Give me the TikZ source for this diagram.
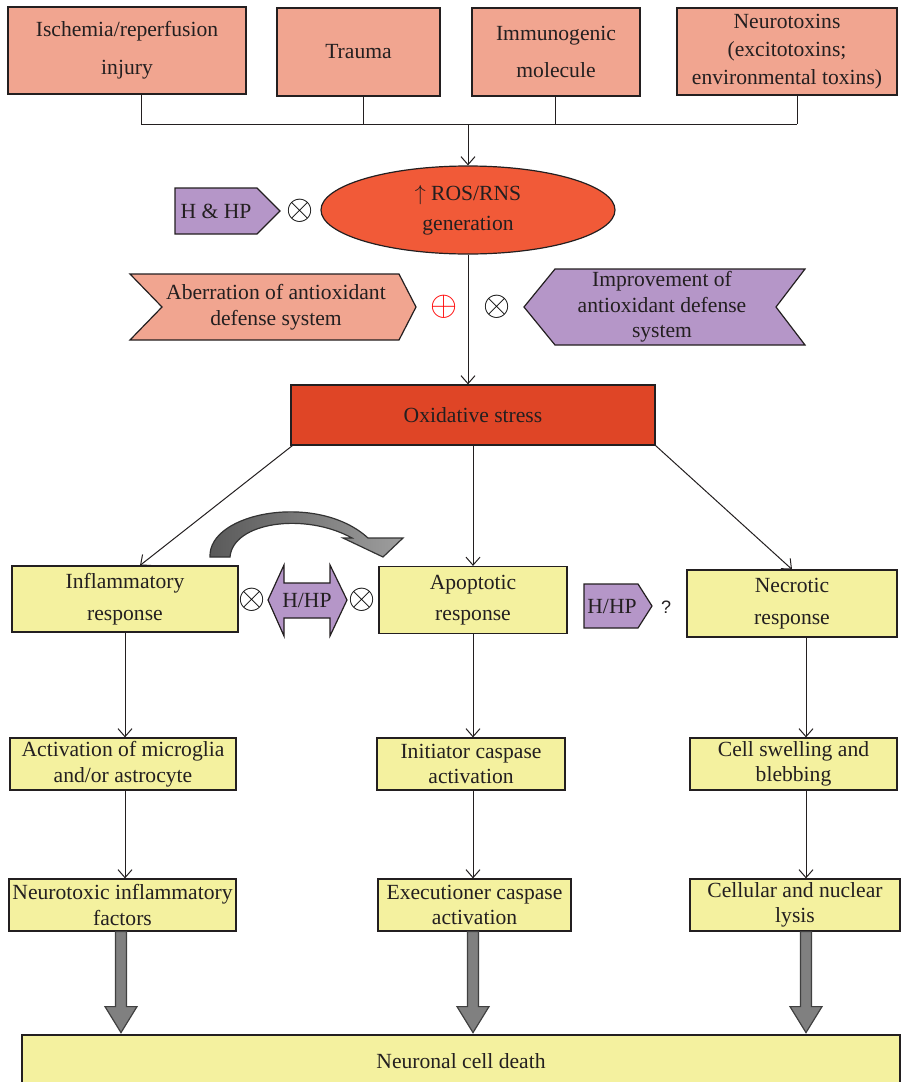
\documentclass[tikz,border=0pt]{standalone}
\usepackage{fontspec}
\setmainfont{Liberation Serif}
\newfontfamily\qfont{Liberation Sans}
\usetikzlibrary{arrows.meta,shapes.geometric,calc}
\definecolor{salmon}{HTML}{F1A590}
\definecolor{lilac}{HTML}{B596C8}
\definecolor{paleyellow}{HTML}{F4F19F}
\definecolor{rosred}{HTML}{F15A38}
\definecolor{oxred}{HTML}{DF4526}
\definecolor{edge}{HTML}{231F20}
\tikzset{
  base/.style={draw=edge, line width=0.6pt, align=center, inner sep=1pt, text=edge},
  causebox/.style={base, fill=salmon},
  yellowbox/.style={base, fill=paleyellow},
  conn/.style={draw=edge, line width=0.5pt},
  arr/.style={conn, -{Straight Barb[length=4pt,width=7pt]}},
  shapepath/.style={draw=edge, line width=0.6pt},
  fatarrow/.style={draw=black!75, line width=0.6pt, fill=black!50},
  sym/.style={inner sep=0pt, font=\large, scale=1.45},
  lbl/.style={inner sep=0pt, align=center, text=edge}
}
\begin{document}
\begin{tikzpicture}[x=0.5pt,y=-0.5pt,font=\fontsize{10.8}{12.8}\selectfont]
\useasboundingbox (0,0) rectangle (904,1082);

% top causes
\node[causebox, minimum width=119pt, minimum height=43.5pt] (isch) at (127,50.5) {Ischemia/reperfusion\\[6pt]injury};
\node[causebox, minimum width=81.5pt, minimum height=44pt] (trauma) at (358.5,52) {Trauma};
\node[causebox, minimum width=84pt, minimum height=44pt] (immuno) at (556,52) {Immunogenic\\[6pt]molecule};
\node[causebox, minimum width=110pt, minimum height=43.5pt] (neuro) at (787,51.5) {Neurotoxins\\[1.2pt](excitotoxins;\\[1.2pt]environmental toxins)};

\coordinate (j1) at (141,124);
\coordinate (j2) at (363,124);
\coordinate (j3) at (555,124);
\coordinate (j4) at (797,124);
\coordinate (jm) at (468,124);

\draw[conn] (isch.south -| j1) -- (j1);
\draw[conn] (trauma.south -| j2) -- (j2);
\draw[conn] (immuno.south -| j3) -- (j3);
\draw[conn] (neuro.south -| j4) -- (j4);
\draw[conn] (j1) -- (j4);

% ROS ellipse
\node[ellipse, draw=edge, line width=0.6pt, fill=rosred, minimum width=147pt, minimum height=44pt, inner sep=0pt, align=center, text=edge] (ros) at (468,210) {$\uparrow$ ROS/RNS\\[2pt]generation};
\draw[arr] (jm) -- (jm |- ros.north);

% H & HP
\draw[shapepath, fill=lilac] (175,188) -- (257,188) -- (280,211) -- (257,234) -- (175,234) -- cycle;
\node[lbl] (hhp) at (216,211) {H \& HP};
\node[sym] (ot1) at (300,211) {$\otimes$};

% oxidative stress
\node[base, fill=oxred, minimum width=182pt, minimum height=30pt] (ox) at (473,415) {Oxidative stress};
\draw[arr] (ros.south) -- (ros.south |- ox.north);

% antioxidant chevrons
\draw[shapepath, fill=salmon] (130,274) -- (399,274) -- (416,307) -- (399,340) -- (130,340) -- (162,307) -- cycle;
\node[lbl] (aber) at (276,307) {Aberration of antioxidant\\defense system};
\node[sym, text=red] (op) at (444,307) {$\oplus$};
\node[sym] (ot2) at (497,307) {$\otimes$};
\draw[shapepath, fill=lilac] (524,307) -- (555,269) -- (805,269) -- (776,307) -- (805,345) -- (555,345) -- cycle;
\node[lbl] (impr) at (662,307) {Improvement of\\antioxidant defense\\system};

% responses
\node[yellowbox, minimum width=113pt, minimum height=33pt] (infl) at (125,599) {Inflammatory\\[3pt]response};
\node[yellowbox, minimum width=94pt, minimum height=33.5pt] (apop) at (473,600) {Apoptotic\\[3pt]response};
\node[yellowbox, minimum width=105pt, minimum height=33.5pt] (necro) at (792,603.5) {Necrotic\\[3pt]response};

\draw[arr] (ox.south west) ++(2,0) -- ($(infl.north)+(15,0)$);
\draw[arr] (ox.south) -- (apop.north);
\draw[arr] (ox.south east) -- (necro.north);

% curved gray arrow
\draw[draw=black!80, line width=0.6pt, left color=black!65, right color=black!38]
  (210,557) .. controls (208,512) and (318,492) .. (368,538)
  -- (403,538) -- (383,557) -- (343,538) -- (352,538)
  .. controls (305,512) and (233,522) .. (230,557) -- cycle;

% H/HP double arrow
\node[sym] (ot3) at (252,600) {$\otimes$};
\draw[shapepath, fill=lilac] (268,600) -- (284,565) -- (284,583) -- (330,583) -- (330,565) -- (347,600) -- (330,636) -- (330,618) -- (284,618) -- (284,636) -- cycle;
\node[lbl] (hhp2) at (307,600) {H/HP};
\node[sym] (ot4) at (362,600) {$\otimes$};

% H/HP ?
\draw[shapepath, fill=lilac] (584,584) -- (638,584) -- (652,606) -- (638,628) -- (584,628) -- cycle;
\node[lbl] (hhp3) at (612,606) {H/HP};
\node[lbl, font=\qfont\fontsize{9}{10}\selectfont] (q) at (666,607) {?};

% second and third rows
\node[yellowbox, minimum width=113pt, minimum height=26pt] (act) at (123,764) {Activation of microglia\\and/or astrocyte};
\node[yellowbox, minimum width=94pt, minimum height=26pt] (init) at (471,764) {Initiator caspase\\activation};
\node[yellowbox, minimum width=103.5pt, minimum height=26pt] (swell) at (793.5,764) {Cell swelling and\\blebbing};

\node[yellowbox, minimum width=113.5pt, minimum height=26pt] (nfac) at (122.5,905) {Neurotoxic inflammatory\\factors};
\node[yellowbox, minimum width=96.5pt, minimum height=26pt] (exec) at (474.5,905) {Executioner caspase\\activation};
\node[yellowbox, minimum width=105pt, minimum height=26pt] (lysis) at (795,905) {Cellular and nuclear\\lysis};

\coordinate (c1) at (125,0);
\coordinate (c2) at (473,0);
\coordinate (c3) at (806,0);

\draw[arr] (infl.south -| c1) -- (act.north -| c1);
\draw[arr] (act.south -| c1) -- (nfac.north -| c1);
\draw[arr] (apop.south -| c2) -- (init.north -| c2);
\draw[arr] (init.south -| c2) -- (exec.north -| c2);
\draw[arr] (necro.south -| c3) -- (swell.north -| c3);
\draw[arr] (swell.south -| c3) -- (lysis.north -| c3);

% death
\node[yellowbox, minimum width=439pt, minimum height=26pt] (death) at (461,1061) {Neuronal cell death};

\coordinate (f1) at (121,0);
\coordinate (f2) at (473,0);
\coordinate (f3) at (806,0);
\foreach \src/\f in {nfac/f1, exec/f2, lysis/f3}{
  \draw[fatarrow] (\src.south -| \f) ++(-5.5,0) -- ++(0,75) -- ++(-10.5,0) -- ++(16,26) -- ++(16,-26) -- ++(-10.5,0) -- ++(0,-75) -- cycle;
}
\end{tikzpicture}
\end{document}
